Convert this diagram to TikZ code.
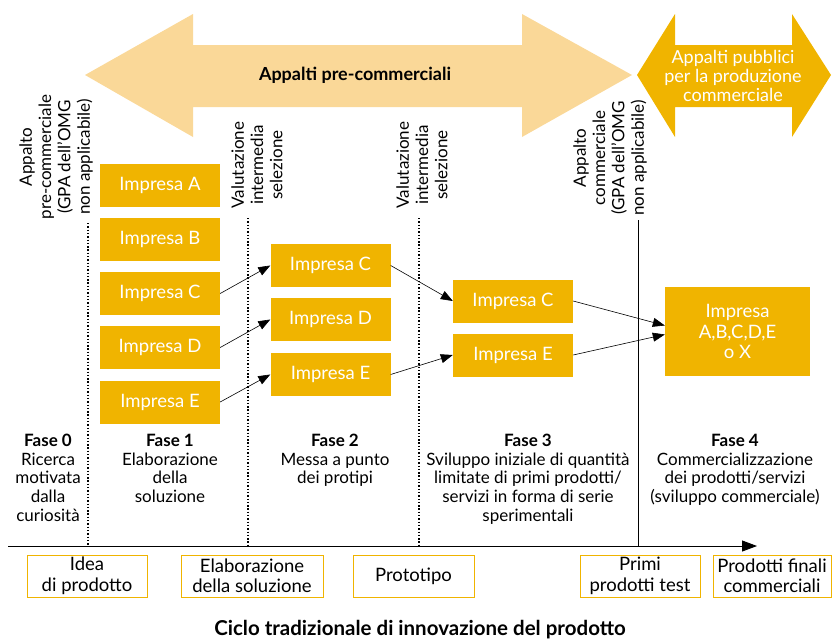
\documentclass[tikz,border=0pt]{standalone}
\usepackage{fontspec}
\setmainfont{Lato}
\usetikzlibrary{arrows.meta,calc}
\definecolor{lor}{RGB}{250,216,152}
\definecolor{dor}{RGB}{240,180,0}
\tikzset{
  imp/.style={fill=dor, text=white, minimum width=120pt, minimum height=43pt, inner sep=0pt, font=\fontsize{18.5}{20}\selectfont},
  conn/.style={-{Triangle[length=12pt,width=9pt]}, line width=0.6pt},
  vtext/.style={rotate=90, align=center, inner sep=0pt, font=\fontsize{17}{19.3}\selectfont},
  dotline/.style={line width=1.4pt, dash pattern=on 1.4pt off 1.9pt},
  fase/.style={anchor=north, align=center, inner sep=0pt, font=\fontsize{17}{18.6}\selectfont},
  outbox/.style={draw=dor, line width=1pt, minimum height=42pt, inner sep=0pt, align=center, font=\fontsize{18.5}{20.5}\selectfont}
}
\begin{document}
\begin{tikzpicture}[x=1pt,y=-1pt]
\useasboundingbox (0,0) rectangle (833,640);
% big arrows
\fill[lor] (85,75) -- (193,14) -- (193,45) -- (522,45) -- (522,14) -- (632,75) -- (522,137) -- (522,107) -- (193,107) -- (193,137) -- cycle;
\fill[dor] (637,75) -- (675,14) -- (675,45) -- (792,45) -- (792,14) -- (831,75) -- (792,137) -- (792,107) -- (675,107) -- (675,137) -- cycle;
\node[font=\bfseries\fontsize{18}{20}\selectfont] (pc) at (355,75) {Appalti pre-commerciali};
\node[align=center, text=white, font=\fontsize{18}{19}\selectfont] (pp) at (733,76) {Appalti pubblici\\per la produzione\\commerciale};
% vertical labels
\node[vtext] (t0) at (56,157) {Appalto\\pre-commerciale\\(GPA dell'OMG\\non applicabile)};
\node[vtext] (v1) at (257,165) {Valutazione\\intermedia\\selezione};
\node[vtext] (v2) at (422,165) {Valutazione\\intermedia\\selezione};
\node[vtext] (t4) at (610,158) {Appalto\\commerciale\\(GPA dell'OMG\\non applicabile)};
% separators
\coordinate (s0t) at (88,223); \coordinate (s0b) at (88,546);
\coordinate (s1t) at (248,218); \coordinate (s1b) at (248,546);
\coordinate (s2t) at (419,218); \coordinate (s2b) at (419,546);
\coordinate (s3t) at (638,220); \coordinate (s3b) at (638,546);
\draw[dotline] (s0t) -- (s0b);
\draw[dotline] (s1t) -- (s1b);
\draw[dotline] (s2t) -- (s2b);
\draw[line width=0.8pt] (s3t) -- (s3b);
% column 1
\node[imp] (a1) at (160,185.5) {Impresa A};
\node[imp] (b1) at (160,239.5) {Impresa B};
\node[imp] (c1) at (160,293.5) {Impresa C};
\node[imp] (d1) at (160,347.5) {Impresa D};
\node[imp] (e1) at (160,402) {Impresa E};
% column 2
\node[imp] (c2) at (330.5,265.5) {Impresa C};
\node[imp] (d2) at (330.5,319.5) {Impresa D};
\node[imp] (e2) at (330.5,374.5) {Impresa E};
% column 3
\node[imp] (c3) at (513,301) {Impresa C};
\node[imp] (e3) at (513,355) {Impresa E};
% column 4
\node[imp, minimum width=145pt, minimum height=89pt, align=center, font=\fontsize{18.5}{20.5}\selectfont] (f4) at (737.5,331.5) {Impresa\\A,B,C,D,E\\o X};
% connectors
\draw[conn] (c1.east) -- (c2.west);
\draw[conn] (d1.east) -- (d2.west);
\draw[conn] (e1.east) -- (e2.west);
\draw[conn] (c2.east) -- (c3.west);
\draw[conn] (e2.east) -- (e3.west);
\draw[conn] (c3.east) -- ([yshift=6pt]f4.west);
\draw[conn] (e3.east) -- ([yshift=-3pt]f4.west);
% phases
\node[fase] (f0t) at (48,434) {\textbf{Fase 0}\\Ricerca\\motivata\\dalla\\curiosità};
\node[fase] (f1t) at (170,434) {\textbf{Fase 1}\\Elaborazione\\della\\soluzione};
\node[fase] (f2t) at (335,434) {\textbf{Fase 2}\\Messa a punto\\dei protipi};
\node[fase] (f3t) at (528,434) {\textbf{Fase 3}\\Sviluppo iniziale di quantità\\limitate di primi prodotti/\\servizi in forma di serie\\sperimentali};
\node[fase] (f4t) at (735,434) {\textbf{Fase 4}\\Commercializzazione\\dei prodotti/servizi\\(sviluppo commerciale)};
% axis
\coordinate (ax0) at (8,546); \coordinate (ax1) at (757,546);
\draw[line width=0.9pt, -{Triangle[length=15pt,width=11pt]}] (ax0) -- (ax1);
% output boxes
\node[outbox, minimum width=120pt] (o1) at (87,576) {Idea\\di prodotto};
\node[outbox, minimum width=142pt] (o2) at (252,576) {Elaborazione\\della soluzione};
\node[outbox, minimum width=121pt] (o3) at (413.5,576) {Prototipo};
\node[outbox, minimum width=120pt] (o4) at (640,576) {Primi\\prodotti test};
\node[outbox, minimum width=118pt] (o5) at (772,576) {Prodotti finali\\commerciali};
% title
\node[font=\bfseries\fontsize{20.5}{22}\selectfont] (title) at (420,630) {Ciclo tradizionale di innovazione del prodotto};
\end{tikzpicture}
\end{document}
